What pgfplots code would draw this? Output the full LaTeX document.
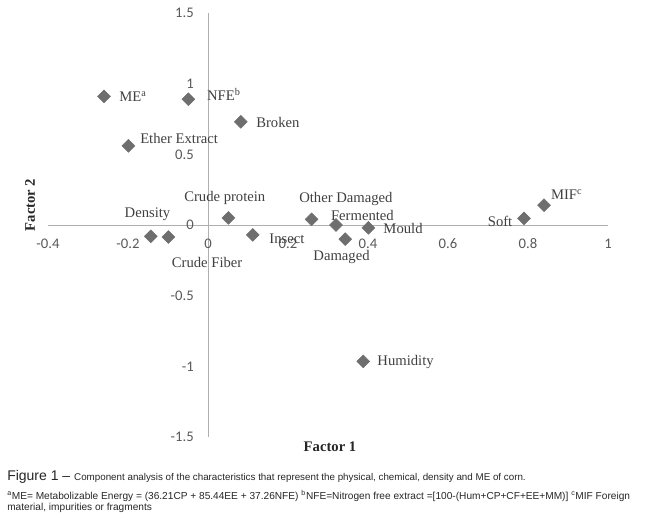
\documentclass[border=0pt]{standalone}
\usepackage{fontspec}
\usepackage{pgfplots}
\pgfplotsset{compat=1.18}
\setmainfont{Liberation Serif}
\newfontfamily\tickfont{Carlito}
\newfontfamily\capfont{Liberation Sans}

\definecolor{markgray}{RGB}{110,110,110}
\definecolor{axisgray}{RGB}{175,175,175}
\definecolor{tickgray}{RGB}{89,89,89}
\definecolor{labgray}{RGB}{64,64,64}

% factor loadings
\pgfplotstableread{
f1      f2
-0.260  0.910
-0.049  0.890
 0.082  0.730
-0.199  0.560
 0.051  0.050
 0.259  0.040
-0.143 -0.080
-0.099 -0.085
 0.112 -0.070
 0.320  0.000
 0.343 -0.100
 0.401 -0.020
 0.790  0.047
 0.840  0.140
 0.388 -0.965
}\loadings

\begin{document}
\begin{tikzpicture}
\useasboundingbox (0,0) rectangle (484.5pt,389.25pt);
\begin{axis}[
    at={(36pt,61.5pt)}, anchor=south west,
    scale only axis,
    width=420pt, height=318pt,
    xmin=-0.4, xmax=1, ymin=-1.5, ymax=1.5,
    axis lines=middle,
    axis line style={axisgray, -, line width=0.6pt},
    hide obscured x ticks=false, hide obscured y ticks=false,
    major tick length=0pt,
    xtick={-0.4,-0.2,0,0.2,0.4,0.6,0.8,1},
    xticklabels={-0.4,-0.2,0,0.2,0.4,0.6,0.8,1},
    ytick={-1.5,-1,-0.5,0,0.5,1,1.5},
    yticklabels={-1.5,-1,-0.5,0,0.5,1,1.5},
    tick label style={font=\tickfont\fontsize{11}{13}\selectfont, text=tickgray, inner sep=0pt},
    xticklabel style={anchor=north, yshift=-10pt},
    yticklabel style={anchor=east, xshift=-10.5pt},
    clip=false,
]
\addplot[only marks, mark=square*, mark size=3.4pt,
    mark options={rotate=45, fill=markgray, draw=markgray}]
    table[x=f1, y=f2] {\loadings};

\begin{scope}[every node/.style={anchor=west, inner sep=0pt, text=labgray,
    font=\fontsize{11}{13}\selectfont}]
\node at (axis cs:-0.2225, 0.908) {ME\textsuperscript{a}};
\node at (axis cs:-0.003, 0.925) {NFE\textsuperscript{b}};
\node at (axis cs:0.120, 0.727) {Broken};
\node at (axis cs:-0.170, 0.615) {Ether Extract};
\node at (axis cs:-0.060, 0.188) {Crude protein};
\node at (axis cs:0.2275, 0.185) {Other Damaged};
\node at (axis cs:-0.209, 0.075) {Density};
\node at (axis cs:-0.091, -0.265) {Crude Fiber};
\node at (axis cs:0.153, -0.100) {Insect};
\node at (axis cs:0.307, 0.070) {Fermented};
\node at (axis cs:0.263, -0.223) {Damaged};
\node at (axis cs:0.438, -0.023) {Mould};
\node at (axis cs:0.699, 0.023) {Soft};
\node at (axis cs:0.857, 0.216) {MIF\textsuperscript{c}};
\node at (axis cs:0.423, -0.970) {Humidity};
\end{scope}
\end{axis}

\node[font=\bfseries\fontsize{11}{13}\selectfont, text=black!85] at (247.5pt,54pt) {Factor 1};
\node[font=\bfseries\fontsize{11}{13}\selectfont, text=black!85, rotate=90] at (22.5pt,235.5pt) {Factor 2};

\begin{scope}[every node/.style={anchor=base west, inner sep=0pt, text=black!85}]
\node at (5.25pt,29.25pt) {\capfont\fontsize{10.5}{12}\selectfont Figure 1 – \fontsize{7.35}{9}\selectfont Component analysis of the characteristics that represent the physical, chemical, density and ME of corn.};
\node at (5.25pt,14.8pt) {\capfont\fontsize{7.6}{9}\selectfont \textsuperscript{a}ME= Metabolizable Energy = (36.21CP + 85.44EE + 37.26NFE) \textsuperscript{b}NFE=Nitrogen free extract =[100-(Hum+CP+CF+EE+MM)] \textsuperscript{c}MIF Foreign};
\node at (5.25pt,6.2pt) {\capfont\fontsize{7.6}{9}\selectfont material, impurities or fragments};
\end{scope}
\end{tikzpicture}
\end{document}
